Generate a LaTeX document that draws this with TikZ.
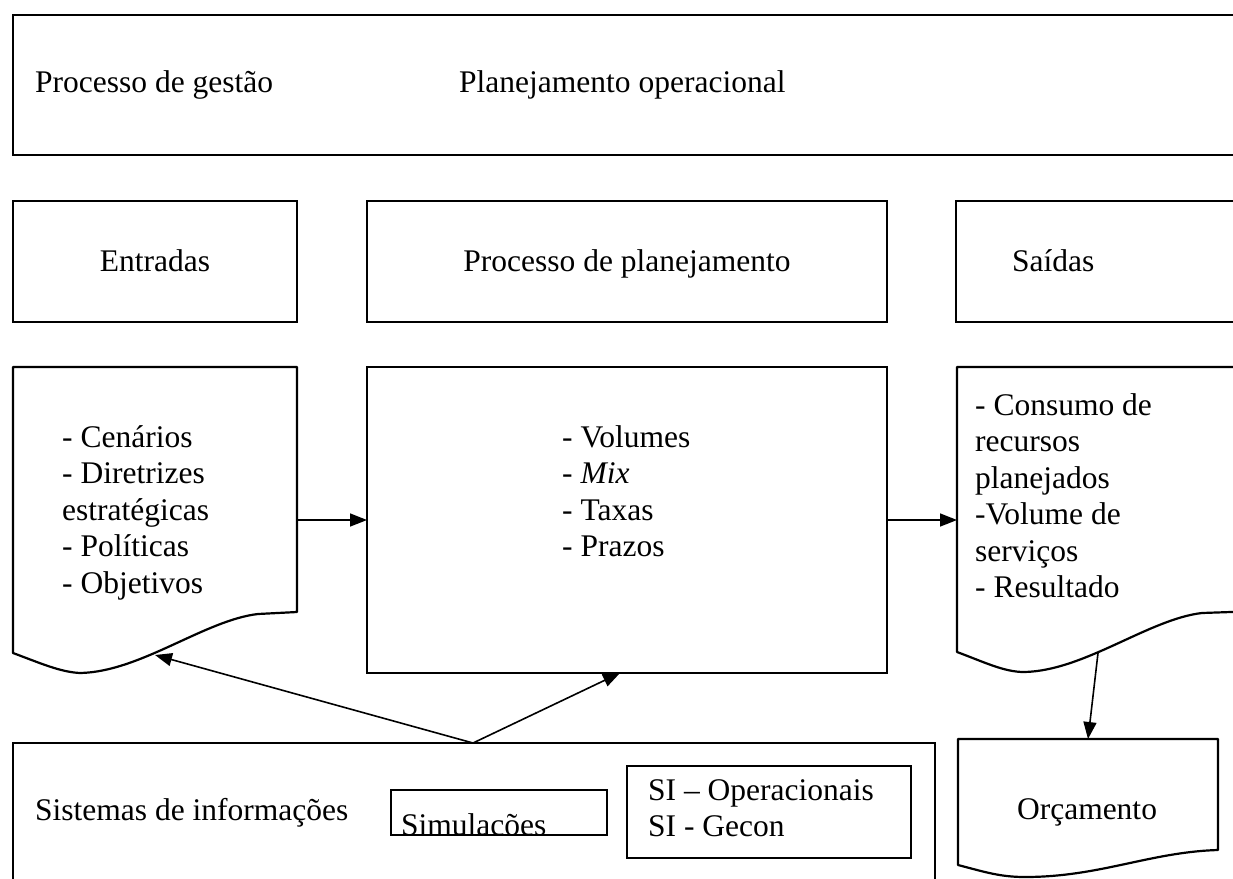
\documentclass[tikz,border=0pt]{standalone}
\usepackage{fontspec}
\setmainfont{Liberation Serif}
\usetikzlibrary{arrows.meta}
\begin{document}
\begin{tikzpicture}[x=1pt,y=-1pt,
  box/.style={draw, line width=2.2pt, inner sep=0pt, outer sep=0pt, anchor=north west},
  docline/.style={line width=2.2pt, line join=round},
  lbl/.style={inner sep=0pt, font=\fontsize{31.5}{36.5}\selectfont},
  arr/.style={line width=1.6pt, -{Triangle[length=17pt,width=13pt]}}]
\useasboundingbox (0,0) rectangle (1233,878);
\clip (0,0) rectangle (1233,878);

% top box
\node[box, minimum width=1240, minimum height=140] (top) at (13,15) {};
\node[lbl, anchor=base west] (tgest) at (35,92) {Processo de gestão};
\node[lbl, anchor=base west] (tplan) at (459,92) {Planejamento operacional};

% second row
\node[box, minimum width=284, minimum height=121] (ent) at (13,201) {};
\node[lbl, anchor=base] (enttitle) at (ent.center |- 0,271) {Entradas};
\node[box, minimum width=520, minimum height=121] (proc) at (367,201) {};
\node[lbl, anchor=base] (proctitle) at (proc.center |- 0,271) {Processo de planejamento};
\node[box, minimum width=300, minimum height=121] (sai) at (956,201) {};
\node[lbl, anchor=base west] (saititle) at (1012,271) {Saídas};

% third row: Entradas document
\draw[docline] (13,367) -- (297,367) -- (297,612) -- (258,614)
  .. controls (205,620) and (140,672) .. (80,673)
  .. controls (60,672) and (40,663) .. (13,653) -- cycle;
\coordinate (entR) at (297,520);
\coordinate (entW) at (155,655);
\node[lbl, anchor=north west, align=left] (enttxt) at (62,425)
  {- Cenários\\- Diretrizes\\estratégicas\\- Políticas\\- Objetivos};

% middle box
\node[box, minimum width=520, minimum height=306] (mid) at (367,367) {};
\coordinate (midB) at (620,673);
\node[lbl, anchor=north west, align=left] (midtxt) at (562,425)
  {- Volumes\\- \textit{Mix}\\- Taxas\\- Prazos};

% Saidas document
\draw[docline] (1260,367) -- (957,367) -- (957,652)
  .. controls (984,662) and (1004,672) .. (1024,672)
  .. controls (1084,671) and (1149,619) .. (1202,613) -- (1260,611);
\coordinate (saiW) at (1098,653);
\node[lbl, anchor=north west, align=left] (saitxt) at (975,393)
  {- Consumo de\\recursos\\planejados\\-Volume de\\serviços\\- Resultado};

% bottom: Sistemas de informacoes
\node[box, minimum width=922, minimum height=180] (sis) at (13,743) {};
\coordinate (sisT) at (473,743);
\node[lbl, anchor=base west] (sistxt) at (35,820) {Sistemas de informações};
\node[box, minimum width=216, minimum height=45] (sim) at (391,790) {};
\begin{scope}
  \clip (392,791) rectangle (606,834);
  \node[lbl, anchor=base west] (simtxt) at (401,835) {Simulações};
\end{scope}
\node[box, minimum width=284, minimum height=92] (si) at (627,766) {};
\node[lbl, anchor=north west, align=left] (sitxt) at (648,779)
  {SI – Operacionais\\SI - Gecon};

% Orcamento document
\draw[docline] (958,739) -- (1218,739) -- (1218,850)
  .. controls (1150,852) and (1100,877) .. (1025,877)
  .. controls (1000,877) and (985,872) .. (958,865) -- cycle;
\coordinate (orcT) at (1088,739);
\node[lbl, anchor=base] (orctxt) at (1087,819) {Orçamento};

% connectors
\draw[arr] (entR) -- (entR -| mid.west);
\draw[arr] (mid.east |- entR) -- (957,520);
\draw[arr] (sisT) -- (entW);
\draw[arr] (sisT) -- (midB);
\draw[arr] (saiW) -- (orcT);
\end{tikzpicture}
\end{document}
